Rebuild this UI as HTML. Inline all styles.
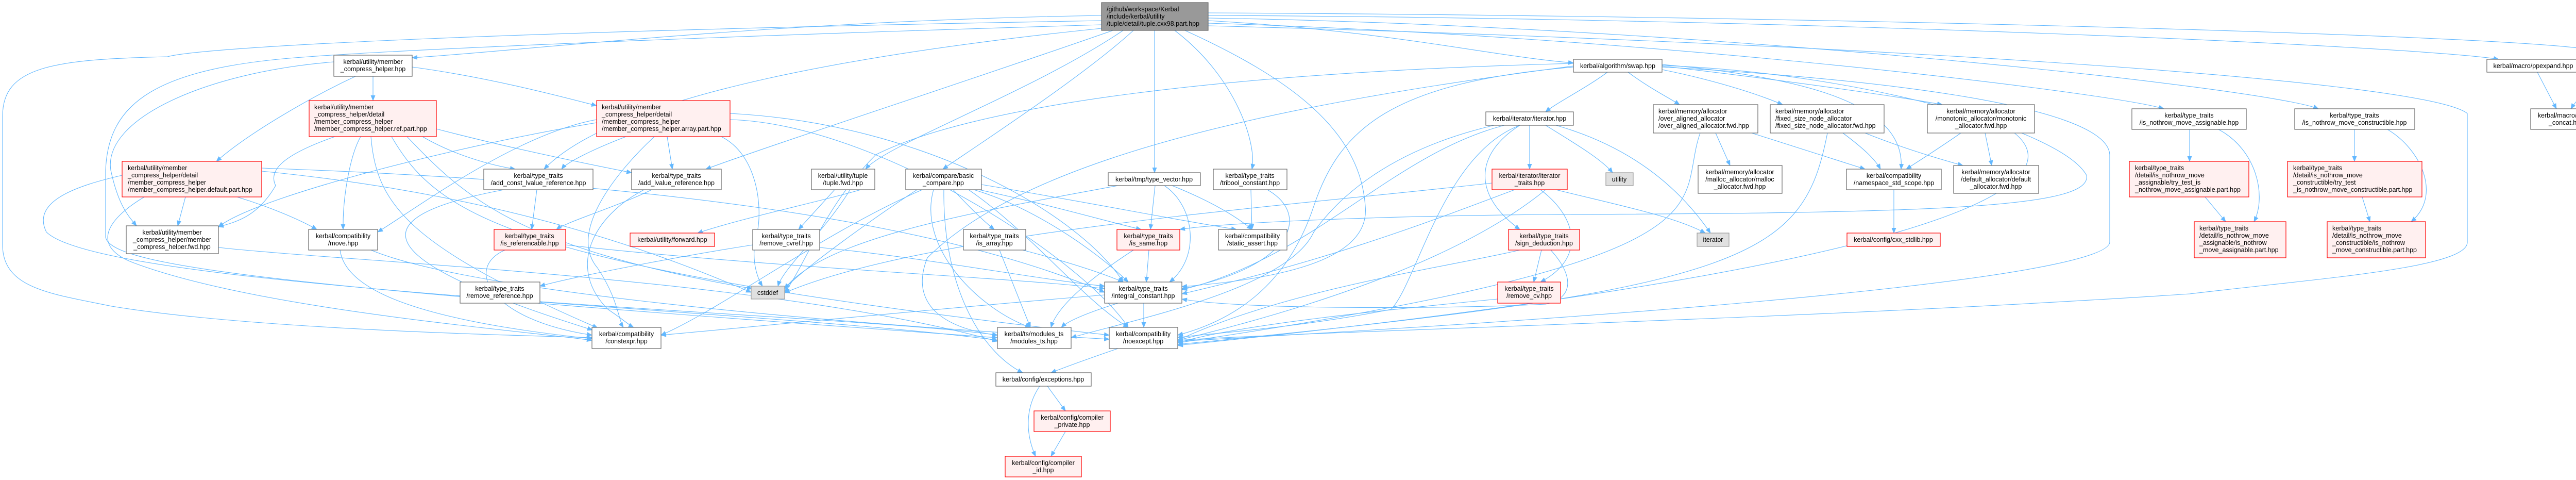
<!DOCTYPE html>
<html><head><meta charset="utf-8"><style>
html,body{margin:0;padding:0;background:#fff;}
svg{display:block;}
text{font-family:"Liberation Sans",Arial,sans-serif;font-size:12.5px;fill:#000;}
.e{fill:none;stroke:#63b8ff;stroke-width:1.1;}
.n{fill:#fff;stroke:#666;stroke-width:1.2;}
.r{fill:#fff0f0;stroke:#f00;stroke-width:1.2;}
.g{fill:#e0e0e0;stroke:#999;stroke-width:1.2;}
.root{fill:#999;stroke:#666;stroke-width:1.2;}
</style></head><body>
<svg width="5055" height="931" viewBox="0 0 5055 931" xmlns="http://www.w3.org/2000/svg">
<defs><marker id="a" markerWidth="11" markerHeight="9" refX="10" refY="4.5" orient="auto" markerUnits="userSpaceOnUse"><path d="M0,0 L11,4.5 L0,9 z" fill="#63b8ff"/></marker></defs>
<g marker-end="url(#a)">
<path class="e" d="M2345,40 C2700,60 2900,110 3054,122"/>
<path class="e" d="M2345,30 C3500,35 4700,90 4850,115"/>
<path class="e" d="M2345,25 C3500,30 4980,70 5040,100 C5070,130 5010,180 4990,211"/>
<path class="e" d="M2345,45 C3200,70 4100,180 4200,211"/>
<path class="e" d="M2345,35 C3300,50 4400,170 4500,211"/>
<path class="e" d="M2138,30 C1500,40 1000,100 800,112"/>
<path class="e" d="M2200,59 C2100,150 1900,280 1830,328"/>
<path class="e" d="M2241,59 L2241,335"/>
<path class="e" d="M2280,59 C2400,150 2440,280 2430,328"/>
<path class="e" d="M2160,59 C1900,150 1500,280 1370,328"/>
<path class="e" d="M2180,59 C2000,180 1720,280 1680,328"/>
<path class="e" d="M2138,55 C1700,100 1200,180 1056,328"/>
<path class="e" d="M2138,40 C1000,60 400,90 325,110 C100,115 5,130 5,225 L5,475 C5,560 100,570 217,594 C500,640 1000,650 1149,655"/>
<path class="e" d="M2138,48 C1400,70 800,95 600,110 C300,130 210,200 205,330 L205,460 C215,520 600,560 1936,655"/>
<path class="e" d="M2345,50 C3500,80 4700,150 4789,220 L4789,470 C4789,520 4500,540 4250,570 C3500,620 2600,640 2286,660"/>
<path class="e" d="M2300,59 C2500,150 2640,250 2650,400 C2660,500 2500,540 2294,556"/>
<path class="e" d="M800,130 C950,150 1100,190 1158,205"/>
<path class="e" d="M724,148 L724,195"/>
<path class="e" d="M690,148 C600,190 480,260 420,313"/>
<path class="e" d="M648,120 C400,140 200,230 215,330 C230,400 250,420 265,438"/>
<path class="e" d="M650,265 C550,300 520,330 535,360 C500,420 460,430 424,440"/>
<path class="e" d="M700,265 C680,300 665,380 666,445"/>
<path class="e" d="M820,265 C880,300 950,320 1000,328"/>
<path class="e" d="M847,250 C1000,290 1150,320 1226,335"/>
<path class="e" d="M720,265 C730,400 800,480 1160,636"/>
<path class="e" d="M760,265 C850,420 1000,520 2153,650"/>
<path class="e" d="M790,265 C900,380 1000,480 1460,560"/>
<path class="e" d="M360,382 L345,438"/>
<path class="e" d="M460,382 C520,400 580,425 615,445"/>
<path class="e" d="M237,340 C150,360 60,390 90,450 C200,560 1500,600 1936,660"/>
<path class="e" d="M280,382 C200,430 180,480 260,510 C500,600 1000,640 1149,660"/>
<path class="e" d="M508,326 C1200,350 1800,420 2144,567"/>
<path class="e" d="M508,332 C1000,380 1300,500 1458,567"/>
<path class="e" d="M1215,265 C1150,290 1100,315 1090,328"/>
<path class="e" d="M1295,265 L1305,328"/>
<path class="e" d="M1158,232 C1000,260 800,410 733,450"/>
<path class="e" d="M1158,238 C900,280 500,380 424,440"/>
<path class="e" d="M1400,265 C1470,300 1480,400 1470,450 C1455,500 1470,540 1480,555"/>
<path class="e" d="M1270,265 C1200,330 1100,450 1160,520 C1200,580 1200,620 1210,635"/>
<path class="e" d="M1417,232 C1700,240 2100,500 2190,635"/>
<path class="e" d="M1417,220 C1800,240 2100,420 2180,547"/>
<path class="e" d="M1042,368 L1032,445"/>
<path class="e" d="M978,368 C700,420 700,500 1150,640"/>
<path class="e" d="M1265,368 C1200,400 1100,430 1080,445"/>
<path class="e" d="M1250,368 C1150,420 1100,520 1180,600 C1210,620 1220,630 1230,635"/>
<path class="e" d="M1620,368 L1550,445"/>
<path class="e" d="M1650,368 C1600,450 1520,520 1510,555"/>
<path class="e" d="M1698,360 C1600,390 1450,420 1354,452"/>
<path class="e" d="M1098,475 C1500,520 2000,540 2144,560"/>
<path class="e" d="M980,485 C900,520 950,620 1149,650"/>
<path class="e" d="M1461,475 C1300,500 1100,540 1048,555"/>
<path class="e" d="M1591,480 C1800,500 2000,540 2144,555"/>
<path class="e" d="M1048,585 C1400,610 1800,630 1936,650"/>
<path class="e" d="M424,480 C700,510 1500,540 1936,662"/>
<path class="e" d="M660,485 C670,560 800,620 1149,657"/>
<path class="e" d="M720,485 C900,560 1500,620 2153,658"/>
<path class="e" d="M1780,368 C1700,420 1560,520 1523,560"/>
<path class="e" d="M2144,572 C1800,600 1400,640 1283,650"/>
<path class="e" d="M1850,368 C1880,400 1910,430 1930,445"/>
<path class="e" d="M1900,368 C2050,400 2150,430 2215,445"/>
<path class="e" d="M1905,358 C2100,390 2300,430 2400,445"/>
<path class="e" d="M1890,368 C2000,400 2120,480 2190,547"/>
<path class="e" d="M1880,368 C2000,450 2100,580 2190,635"/>
<path class="e" d="M1832,368 C1830,550 1900,680 1985,723"/>
<path class="e" d="M1790,368 C1600,450 1400,600 1283,650"/>
<path class="e" d="M1812,368 C1780,480 1900,600 2000,635"/>
<path class="e" d="M2242,360 L2233,445"/>
<path class="e" d="M2260,360 C2320,400 2330,500 2270,547"/>
<path class="e" d="M2275,360 C2350,390 2400,420 2430,445"/>
<path class="e" d="M2170,360 C1900,410 1600,460 1523,560"/>
<path class="e" d="M2428,368 L2430,445"/>
<path class="e" d="M2460,368 C2550,420 2500,520 2294,560"/>
<path class="e" d="M1985,485 C2080,510 2140,530 2180,547"/>
<path class="e" d="M1940,485 L2000,635"/>
<path class="e" d="M2230,485 L2225,547"/>
<path class="e" d="M2200,485 C2100,550 2050,600 2040,635"/>
<path class="e" d="M2220,588 L2220,635"/>
<path class="e" d="M2170,588 C2100,610 2070,625 2060,635"/>
<path class="e" d="M2170,676 C2100,700 2060,715 2040,723"/>
<path class="e" d="M2033,749 L2068,797"/>
<path class="e" d="M2018,749 C1990,790 1990,840 2010,885"/>
<path class="e" d="M2068,837 L2040,885"/>
<path class="e" d="M3120,140 C3080,170 3020,200 3000,217"/>
<path class="e" d="M3160,140 C3200,170 3240,190 3260,203"/>
<path class="e" d="M3226,135 C3350,160 3430,190 3460,203"/>
<path class="e" d="M3226,128 C3500,160 3700,190 3770,203"/>
<path class="e" d="M3226,125 C3500,150 3700,200 3690,328"/>
<path class="e" d="M3054,123 C2400,140 1900,200 1700,300 C1600,400 1560,520 1523,567"/>
<path class="e" d="M3054,130 C2700,160 2600,250 2550,400 C2500,550 2400,620 2286,650"/>
<path class="e" d="M3054,128 C2500,200 2000,300 1800,500 C1760,600 1850,640 1936,650"/>
<path class="e" d="M3226,130 C3600,150 4090,200 4095,300 L4095,470 C4090,520 3600,590 2286,662"/>
<path class="e" d="M3226,127 C3600,140 4000,250 4050,340 C4060,400 3800,414 3000,416 C2600,420 2350,435 2290,445"/>
<path class="e" d="M2969,243 L2969,328"/>
<path class="e" d="M3000,243 C3060,280 3110,310 3130,335"/>
<path class="e" d="M3020,243 C3150,280 3250,350 3320,452"/>
<path class="e" d="M2950,243 C2860,300 2860,380 2950,445"/>
<path class="e" d="M2920,243 C2700,300 2550,500 2294,562"/>
<path class="e" d="M2950,243 C2800,300 2750,550 2700,600 C2500,640 2300,650 2286,655"/>
<path class="e" d="M2900,243 C2700,290 2600,380 2550,450 C2500,560 2200,620 2079,655"/>
<path class="e" d="M2990,368 C3060,420 3080,500 2990,547"/>
<path class="e" d="M3020,368 C3150,400 3250,420 3310,452"/>
<path class="e" d="M3000,368 C2900,450 2700,560 2286,660"/>
<path class="e" d="M2940,368 C2800,420 2600,500 2294,570"/>
<path class="e" d="M2896,355 C2500,400 1800,450 1523,568"/>
<path class="e" d="M2992,485 L2977,547"/>
<path class="e" d="M2950,485 C2800,520 2500,560 2286,660"/>
<path class="e" d="M3010,485 C3060,540 3050,580 3000,590 C2800,600 2400,600 2294,580"/>
<path class="e" d="M2907,580 C2700,600 2400,630 2286,665"/>
<path class="e" d="M3330,258 L3358,321"/>
<path class="e" d="M3400,258 C3500,290 3580,315 3620,328"/>
<path class="e" d="M3300,258 C3250,400 3400,500 2286,665"/>
<path class="e" d="M3577,258 C3620,290 3640,310 3650,328"/>
<path class="e" d="M3620,258 C3700,290 3770,310 3810,321"/>
<path class="e" d="M3547,258 C3500,500 3400,560 2286,668"/>
<path class="e" d="M3806,258 C3760,290 3720,315 3700,328"/>
<path class="e" d="M3853,258 L3866,321"/>
<path class="e" d="M3910,258 C4000,330 3950,500 2286,670"/>
<path class="e" d="M3676,368 L3676,452"/>
<path class="e" d="M4250,251 L4250,313"/>
<path class="e" d="M4306,251 C4380,290 4400,380 4375,430"/>
<path class="e" d="M4280,382 L4320,430"/>
<path class="e" d="M4570,251 L4570,313"/>
<path class="e" d="M4634,251 C4700,290 4740,380 4680,430"/>
<path class="e" d="M4585,382 L4600,430"/>
<path class="e" d="M4925,140 L4962,211"/>
</g>
<g>
<rect class="root" x="2138" y="5" width="207" height="54"/>
<text x="2148" y="22">/github/workspace/Kerbal</text><text x="2148" y="36">/include/kerbal/utility</text><text x="2148" y="50">/tuple/detail/tuple.cxx98.part.hpp</text>

<rect class="n" x="648" y="107" width="152" height="41"/>
<text x="724" y="124" text-anchor="middle">kerbal/utility/member</text><text x="724" y="138" text-anchor="middle">_compress_helper.hpp</text>

<rect class="r" x="600" y="195" width="247" height="70"/>
<text x="610" y="212">kerbal/utility/member</text><text x="610" y="226">_compress_helper/detail</text><text x="610" y="240">/member_compress_helper</text><text x="610" y="254">/member_compress_helper.ref.part.hpp</text>

<rect class="r" x="237" y="313" width="271" height="69"/>
<text x="248" y="330">kerbal/utility/member</text><text x="248" y="344">_compress_helper/detail</text><text x="248" y="358">/member_compress_helper</text><text x="248" y="372">/member_compress_helper.default.part.hpp</text>

<rect class="n" x="245" y="438" width="179" height="54"/>
<text x="334" y="455" text-anchor="middle">kerbal/utility/member</text><text x="334" y="469" text-anchor="middle">_compress_helper/member</text><text x="334" y="483" text-anchor="middle">_compress_helper.fwd.hpp</text>

<rect class="n" x="599" y="445" width="134" height="40"/>
<text x="666" y="462" text-anchor="middle">kerbal/compatibility</text><text x="666" y="476" text-anchor="middle">/move.hpp</text>

<rect class="r" x="1158" y="195" width="259" height="70"/>
<text x="1168" y="212">kerbal/utility/member</text><text x="1168" y="226">_compress_helper/detail</text><text x="1168" y="240">/member_compress_helper</text><text x="1168" y="254">/member_compress_helper.array.part.hpp</text>

<rect class="n" x="939" y="328" width="212" height="40"/>
<text x="1045" y="345" text-anchor="middle">kerbal/type_traits</text><text x="1045" y="359" text-anchor="middle">/add_const_lvalue_reference.hpp</text>

<rect class="n" x="1226" y="328" width="174" height="40"/>
<text x="1313" y="345" text-anchor="middle">kerbal/type_traits</text><text x="1313" y="359" text-anchor="middle">/add_lvalue_reference.hpp</text>

<rect class="n" x="1575" y="328" width="123" height="40"/>
<text x="1636" y="345" text-anchor="middle">kerbal/utility/tuple</text><text x="1636" y="359" text-anchor="middle">/tuple.fwd.hpp</text>

<rect class="r" x="959" y="445" width="139" height="40"/>
<text x="1028" y="462" text-anchor="middle">kerbal/type_traits</text><text x="1028" y="476" text-anchor="middle">/is_referencable.hpp</text>

<rect class="r" x="1223" y="452" width="164" height="26"/>
<text x="1305" y="469" text-anchor="middle">kerbal/utility/forward.hpp</text>

<rect class="n" x="1461" y="445" width="130" height="40"/>
<text x="1526" y="462" text-anchor="middle">kerbal/type_traits</text><text x="1526" y="476" text-anchor="middle">/remove_cvref.hpp</text>

<rect class="n" x="893" y="547" width="155" height="41"/>
<text x="970" y="564" text-anchor="middle">kerbal/type_traits</text><text x="970" y="578" text-anchor="middle">/remove_reference.hpp</text>

<rect class="g" x="1458" y="555" width="65" height="25"/>
<text x="1490" y="572" text-anchor="middle">cstddef</text>

<rect class="n" x="1149" y="635" width="134" height="41"/>
<text x="1216" y="652" text-anchor="middle">kerbal/compatibility</text><text x="1216" y="666" text-anchor="middle">/constexpr.hpp</text>

<rect class="n" x="1758" y="328" width="147" height="40"/>
<text x="1831" y="345" text-anchor="middle">kerbal/compare/basic</text><text x="1831" y="359" text-anchor="middle">_compare.hpp</text>

<rect class="n" x="2151" y="335" width="179" height="25"/>
<text x="2240" y="352" text-anchor="middle">kerbal/tmp/type_vector.hpp</text>

<rect class="n" x="2355" y="328" width="143" height="40"/>
<text x="2426" y="345" text-anchor="middle">kerbal/type_traits</text><text x="2426" y="359" text-anchor="middle">/tribool_constant.hpp</text>

<rect class="n" x="1870" y="445" width="121" height="40"/>
<text x="1930" y="462" text-anchor="middle">kerbal/type_traits</text><text x="1930" y="476" text-anchor="middle">/is_array.hpp</text>

<rect class="r" x="2168" y="445" width="122" height="40"/>
<text x="2229" y="462" text-anchor="middle">kerbal/type_traits</text><text x="2229" y="476" text-anchor="middle">/is_same.hpp</text>

<rect class="n" x="2365" y="445" width="133" height="40"/>
<text x="2431" y="462" text-anchor="middle">kerbal/compatibility</text><text x="2431" y="476" text-anchor="middle">/static_assert.hpp</text>

<rect class="n" x="2144" y="547" width="150" height="41"/>
<text x="2219" y="564" text-anchor="middle">kerbal/type_traits</text><text x="2219" y="578" text-anchor="middle">/integral_constant.hpp</text>

<rect class="n" x="1936" y="635" width="143" height="41"/>
<text x="2007" y="652" text-anchor="middle">kerbal/ts/modules_ts</text><text x="2007" y="666" text-anchor="middle">/modules_ts.hpp</text>

<rect class="n" x="2153" y="635" width="133" height="41"/>
<text x="2219" y="652" text-anchor="middle">kerbal/compatibility</text><text x="2219" y="666" text-anchor="middle">/noexcept.hpp</text>

<rect class="n" x="1933" y="723" width="185" height="26"/>
<text x="2025" y="740" text-anchor="middle">kerbal/config/exceptions.hpp</text>

<rect class="r" x="2007" y="797" width="148" height="40"/>
<text x="2081" y="814" text-anchor="middle">kerbal/config/compiler</text><text x="2081" y="828" text-anchor="middle">_private.hpp</text>

<rect class="r" x="1951" y="885" width="148" height="40"/>
<text x="2025" y="902" text-anchor="middle">kerbal/config/compiler</text><text x="2025" y="916" text-anchor="middle">_id.hpp</text>

<rect class="n" x="3054" y="115" width="172" height="25"/>
<text x="3140" y="132" text-anchor="middle">kerbal/algorithm/swap.hpp</text>

<rect class="n" x="2884" y="217" width="170" height="26"/>
<text x="2969" y="234" text-anchor="middle">kerbal/iterator/iterator.hpp</text>

<rect class="n" x="3209" y="203" width="203" height="55"/>
<text x="3219" y="220">kerbal/memory/allocator</text><text x="3219" y="234">/over_aligned_allocator</text><text x="3219" y="248">/over_aligned_allocator.fwd.hpp</text>

<rect class="r" x="2896" y="328" width="146" height="40"/>
<text x="2969" y="345" text-anchor="middle">kerbal/iterator/iterator</text><text x="2969" y="359" text-anchor="middle">_traits.hpp</text>

<rect class="g" x="3117" y="335" width="53" height="25"/>
<text x="3143" y="352" text-anchor="middle">utility</text>

<rect class="n" x="3296" y="321" width="163" height="54"/>
<text x="3377" y="338" text-anchor="middle">kerbal/memory/allocator</text><text x="3377" y="352" text-anchor="middle">/malloc_allocator/malloc</text><text x="3377" y="366" text-anchor="middle">_allocator.fwd.hpp</text>

<rect class="r" x="2928" y="445" width="138" height="40"/>
<text x="2997" y="462" text-anchor="middle">kerbal/type_traits</text><text x="2997" y="476" text-anchor="middle">/sign_deduction.hpp</text>

<rect class="g" x="3294" y="452" width="62" height="26"/>
<text x="3325" y="469" text-anchor="middle">iterator</text>

<rect class="r" x="2907" y="547" width="122" height="41"/>
<text x="2968" y="564" text-anchor="middle">kerbal/type_traits</text><text x="2968" y="578" text-anchor="middle">/remove_cv.hpp</text>

<rect class="n" x="3436" y="203" width="221" height="55"/>
<text x="3446" y="220">kerbal/memory/allocator</text><text x="3446" y="234">/fixed_size_node_allocator</text><text x="3446" y="248">/fixed_size_node_allocator.fwd.hpp</text>

<rect class="n" x="3741" y="203" width="208" height="55"/>
<text x="3845" y="220" text-anchor="middle">kerbal/memory/allocator</text><text x="3845" y="234" text-anchor="middle">/monotonic_allocator/monotonic</text><text x="3845" y="248" text-anchor="middle">_allocator.fwd.hpp</text>

<rect class="n" x="3584" y="328" width="184" height="40"/>
<text x="3676" y="345" text-anchor="middle">kerbal/compatibility</text><text x="3676" y="359" text-anchor="middle">/namespace_std_scope.hpp</text>

<rect class="n" x="3792" y="321" width="165" height="54"/>
<text x="3874" y="338" text-anchor="middle">kerbal/memory/allocator</text><text x="3874" y="352" text-anchor="middle">/default_allocator/default</text><text x="3874" y="366" text-anchor="middle">_allocator.fwd.hpp</text>

<rect class="r" x="3585" y="452" width="181" height="26"/>
<text x="3675" y="469" text-anchor="middle">kerbal/config/cxx_stdlib.hpp</text>

<rect class="n" x="4138" y="211" width="222" height="40"/>
<text x="4249" y="228" text-anchor="middle">kerbal/type_traits</text><text x="4249" y="242" text-anchor="middle">/is_nothrow_move_assignable.hpp</text>

<rect class="r" x="4133" y="313" width="232" height="69"/>
<text x="4144" y="330">kerbal/type_traits</text><text x="4144" y="344">/detail/is_nothrow_move</text><text x="4144" y="358">_assignable/try_test_is</text><text x="4144" y="372">_nothrow_move_assignable.part.hpp</text>

<rect class="r" x="4259" y="430" width="178" height="70"/>
<text x="4269" y="447">kerbal/type_traits</text><text x="4269" y="461">/detail/is_nothrow_move</text><text x="4269" y="475">_assignable/is_nothrow</text><text x="4269" y="489">_move_assignable.part.hpp</text>

<rect class="n" x="4454" y="211" width="233" height="40"/>
<text x="4570" y="228" text-anchor="middle">kerbal/type_traits</text><text x="4570" y="242" text-anchor="middle">/is_nothrow_move_constructible.hpp</text>

<rect class="r" x="4440" y="313" width="261" height="69"/>
<text x="4451" y="330">kerbal/type_traits</text><text x="4451" y="344">/detail/is_nothrow_move</text><text x="4451" y="358">_constructible/try_test</text><text x="4451" y="372">_is_nothrow_move_constructible.part.hpp</text>

<rect class="r" x="4517" y="430" width="191" height="70"/>
<text x="4527" y="447">kerbal/type_traits</text><text x="4527" y="461">/detail/is_nothrow_move</text><text x="4527" y="475">_constructible/is_nothrow</text><text x="4527" y="489">_move_constructible.part.hpp</text>

<rect class="n" x="4827" y="115" width="180" height="25"/>
<text x="4917" y="132" text-anchor="middle">kerbal/macro/ppexpand.hpp</text>

<rect class="n" x="4912" y="211" width="138" height="40"/>
<text x="4981" y="228" text-anchor="middle">kerbal/macro/macro</text><text x="4981" y="242" text-anchor="middle">_concat.hpp</text>
</g>
</svg>
</body></html>
